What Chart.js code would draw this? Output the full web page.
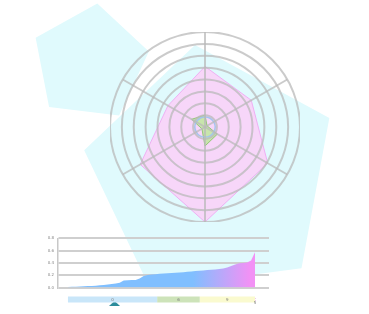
<!DOCTYPE html>
<html><head><meta charset="utf-8">
<script src="https://cdn.jsdelivr.net/npm/chart.js@4.4.1/dist/chart.umd.min.js"></script>
<style>
html,body{margin:0;padding:0;background:#fff;width:369px;height:314px;overflow:hidden;position:relative}
canvas{position:absolute}
</style></head><body>
<canvas id="bgA" width="120" height="120" style="left:30px;top:3px"></canvas>
<canvas id="bgB" width="260" height="260" style="left:82px;top:44px"></canvas>
<canvas id="radar" width="190" height="190" style="left:110px;top:32px"></canvas>
<canvas id="area" width="245" height="62" style="left:30px;top:232px"></canvas>
<canvas id="strip" width="245" height="24" style="left:30px;top:290px"></canvas>
<script>
// ---- data ----
const pentagonAxes = ['p1','p2','p3','p4','p5'];
const pentagonA = [1,1,1,1,1];
const pentagonB = [1,1,1,1,1];
const radarAxes = ['d1','d2','d3','d4','d5','d6'];
const pinkValues = [5.1,4.5,6.1,8.0,6.3,3.6];
const greenValues = [1.0,0.2,1.2,1.6,0.3,1.3];
const blueValues = [0.85,0.85,0.85,0.85,0.85,0.85];
const areaValues = [0.01,0.012,0.015,0.018,0.021,0.024,0.028,0.032,0.037,0.042,0.05,0.058,0.065,0.08,0.115,0.12,0.122,0.125,0.15,0.19,0.205,0.212,0.218,0.224,0.228,0.232,0.236,0.24,0.245,0.25,0.256,0.262,0.268,0.274,0.28,0.285,0.29,0.296,0.302,0.31,0.325,0.35,0.375,0.395,0.40,0.41,0.44,0.58];
const yTickLabels = ['0.0','0.2','0.4','0.6','0.8'];
const stripStarts = [0,22.4,33.1];
const stripEnds = [22.4,33.1,47];
const stripLabels = ['0','6','9'];
const markerPos = [11.7];
const endLabel = '5';
const endPos = 47;

Chart.defaults.font.family = 'DejaVu Sans, sans-serif';
const noPlugins = {legend:{display:false}, tooltip:{enabled:false}};

function pentagon(id, data, start){
  new Chart(document.getElementById(id), {
    type:'radar',
    data:{labels:pentagonAxes, datasets:[{data, backgroundColor:'#e0fafd', borderWidth:0, pointRadius:0, fill:true}]},
    options:{responsive:false, animation:false, plugins:noPlugins,
      scales:{r:{min:0,max:1,startAngle:start, ticks:{display:false}, grid:{display:false}, angleLines:{display:false}, pointLabels:{display:false}}}}
  });
}
pentagon('bgA', pentagonA, 7);
pentagon('bgB', pentagonB, -7.5);

new Chart(document.getElementById('radar'), {
  type:'radar',
  data:{labels:radarAxes, datasets:[
    {data:blueValues, borderColor:'rgba(160,195,240,0.95)', borderWidth:1.5, backgroundColor:'rgba(0,0,0,0)', fill:false, pointRadius:0, tension:0.4},
    {data:greenValues, borderColor:'rgba(140,195,110,0.9)', borderWidth:1, backgroundColor:'rgb(200,229,172)', fill:true, pointRadius:0},
    {data:pinkValues, borderColor:'rgb(238,175,243)', borderWidth:1, backgroundColor:'rgb(247,214,249)', fill:true, pointRadius:0}
  ]},
  options:{responsive:false, animation:false, plugins:noPlugins,
    scales:{r:{min:0,max:8, z:1, ticks:{display:false, stepSize:1},
      grid:{circular:true, color:'rgba(185,185,185,0.75)', lineWidth:2, z:1},
      angleLines:{color:'rgba(185,185,185,0.75)', lineWidth:2},
      pointLabels:{display:false}}}}
});

new Chart(document.getElementById('area'), {
  type:'line',
  data:{datasets:[{
    data: areaValues.map((v,i)=>({x:i,y:v})),
    fill:'origin', borderWidth:0, pointRadius:0, tension:0,
    backgroundColor:(ctx)=>{
      const ca = ctx.chart.chartArea; if(!ca) return 'rgb(128,191,255)';
      const g = ctx.chart.ctx.createLinearGradient(ca.left,0,ca.right,0);
      g.addColorStop(0,'rgb(128,191,255)');
      g.addColorStop(0.64,'rgb(128,191,255)');
      g.addColorStop(0.91,'rgb(242,145,245)');
      g.addColorStop(1,'rgb(242,145,245)');
      return g;
    }
  }]},
  options:{responsive:false, animation:false, plugins:noPlugins,
    layout:{padding:{left:0,right:6,top:6,bottom:3}},
    scales:{
      x:{type:'linear', min:-2.5, max:50.5, display:false},
      y:{min:0, max:0.8,
        ticks:{stepSize:0.2, font:{size:4}, color:'#888', padding:4, callback:(v,i)=>yTickLabels[i]},
        grid:{color:'#cfcfcf', lineWidth:2, drawTicks:false},
        border:{color:'#c8c8c8', width:1.5},
        afterFit:(s)=>{s.width=28;}}
    }}
});

// flat teal marker shape
const tri = document.createElement('canvas');
tri.width = 11; tri.height = 5;
{ const c = tri.getContext('2d'); c.fillStyle = '#2b8c9b'; c.beginPath(); c.moveTo(0,5); c.lineTo(5.5,0); c.lineTo(11,5); c.closePath(); c.fill(); }

const stripColors = ['#c9e6f9','#cde3b9','#fafacf'];
const labelPlugin = {
  id:'stripLabels',
  afterDatasetsDraw(chart){
    const c = chart.ctx, xs = chart.scales.x, ys = chart.scales.y;
    c.save();
    c.font = '4px DejaVu Sans, sans-serif';
    c.textAlign = 'center'; c.textBaseline = 'middle';
    c.fillStyle = '#7a7a7a';
    stripLabels.forEach((t,i)=>{
      c.fillText(t, xs.getPixelForValue((stripStarts[i]+stripEnds[i])/2), ys.getPixelForValue(7));
    });
    c.fillText(endLabel, xs.getPixelForValue(endPos), ys.getPixelForValue(14));
    c.restore();
  }
};
const stripSets = stripStarts.map((s,i)=>({
  data:[{x:s,y:7},{x:stripEnds[i],y:7}], showLine:true, borderColor:stripColors[i],
  borderWidth:6, borderCapStyle:'butt', pointRadius:0
}));
stripSets.push({data:[{x:endPos,y:4},{x:endPos,y:10}], showLine:true, borderColor:'#e39be6', borderWidth:1, borderDash:[1,1], pointRadius:0});
stripSets.push({data:markerPos.map(p=>({x:p,y:15})), pointStyle:tri, pointRadius:5, showLine:false});
new Chart(document.getElementById('strip'), {
  type:'scatter',
  data:{datasets:stripSets},
  options:{responsive:false, animation:false, plugins:noPlugins,
    layout:{padding:{left:28,right:6,top:0,bottom:0}},
    scales:{x:{type:'linear', min:-2.5, max:50.5, display:false},
            y:{type:'linear', min:0, max:24, reverse:true, display:false}}},
  plugins:[labelPlugin]
});
</script>
</body></html>
